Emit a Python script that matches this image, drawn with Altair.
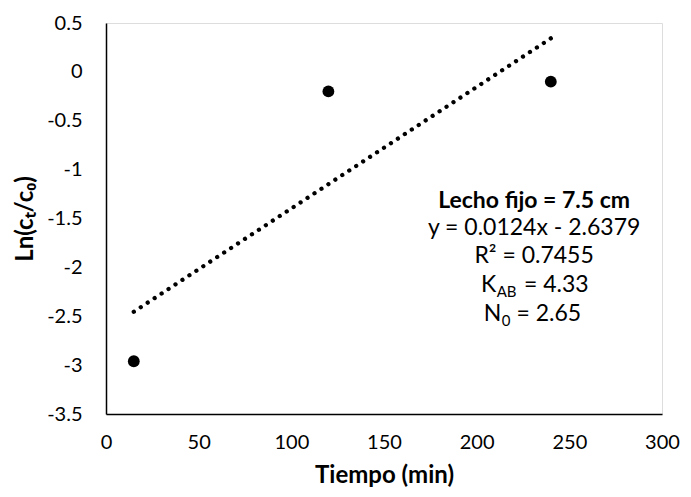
import altair as alt
import pandas as pd

# Data
tiempo = [15, 120, 240]
ln_ratio = [-2.96, -0.20, -0.10]
x_ticks = [0, 50, 100, 150, 200, 250, 300]
y_ticks = [0.5, 0, -0.5, -1, -1.5, -2, -2.5, -3, -3.5]

# Annotation block (data coordinates)
ann_lines = ["Lecho fijo = 7.5 cm", "y = 0.0124x - 2.6379", "R² = 0.7455"]
ann_y = [-1.32, -1.60, -1.885]
ann_bold = [True, False, False]
ann_x = 231

FONT = "Lato"

df = pd.DataFrame({"t": tiempo, "v": ln_ratio})

xs = alt.Scale(domain=[0, 300], nice=False, zero=False)
ys = alt.Scale(domain=[-3.5, 0.5], nice=False, zero=False)

base = alt.Chart(df)

X = alt.X("t:Q", scale=xs, title="Tiempo (min)", axis=alt.Axis(values=x_ticks))
Y = alt.Y("v:Q", scale=ys, title="Ln(cₜ/c₀)",
          axis=alt.Axis(values=y_ticks, labelExpr="'' + datum.value"))

points = base.mark_circle(size=140, color="black", opacity=1).encode(x=X, y=Y)

trend = base.transform_regression("t", "v", method="linear").mark_line(
    color="black", strokeWidth=4.3, strokeDash=[0.01, 8.3], strokeCap="round"
).encode(x=X, y=Y)

ann_df = pd.DataFrame({"x": [ann_x] * 3, "y": ann_y, "txt": ann_lines, "bold": ann_bold})
ann_bold_layer = alt.Chart(ann_df[ann_df.bold]).mark_text(
    font=FONT, fontSize=23, fontWeight="bold", color="black", align="center", baseline="middle"
).encode(x=alt.X("x:Q", scale=xs), y=alt.Y("y:Q", scale=ys), text="txt:N")
ann_reg_layer = alt.Chart(ann_df[~ann_df.bold]).mark_text(
    font=FONT, fontSize=23, color="black", align="center", baseline="middle"
).encode(x=alt.X("x:Q", scale=xs), y=alt.Y("y:Q", scale=ys), text="txt:N")

# K_AB = 4.33 and N_0 = 2.65 with subscripts
sub_main = pd.DataFrame({"x": [210.5, 213.3], "y": [-2.18, -2.477], "txt": ["K", "N"]})
sub_small = pd.DataFrame({"x": [210.8, 213.6], "y": [-2.25, -2.545], "txt": ["AB", "0"]})
sub_rest = pd.DataFrame({"x": [225.5, 221.5], "y": [-2.18, -2.477], "txt": ["= 4.33", "= 2.65"]})

l_main = alt.Chart(sub_main).mark_text(font=FONT, fontSize=23, color="black", align="right",
                                       baseline="middle").encode(
    x=alt.X("x:Q", scale=xs), y=alt.Y("y:Q", scale=ys), text="txt:N")
l_small = alt.Chart(sub_small).mark_text(font=FONT, fontSize=15, color="black", align="left",
                                         baseline="middle").encode(
    x=alt.X("x:Q", scale=xs), y=alt.Y("y:Q", scale=ys), text="txt:N")
l_rest = alt.Chart(sub_rest).mark_text(font=FONT, fontSize=23, color="black", align="left",
                                       baseline="middle").encode(
    x=alt.X("x:Q", scale=xs), y=alt.Y("y:Q", scale=ys), text="txt:N")

chart = alt.layer(trend, points, ann_bold_layer, ann_reg_layer, l_main, l_small, l_rest).properties(
    width=556, height=391,
    autosize=alt.AutoSizeParams(type="none"),
    padding={"left": 98, "top": 15, "right": 21, "bottom": 75},
).configure_view(stroke=None).configure(background="white").configure_axis(
    ticks=False, grid=False, domainColor="black", domainWidth=1.5,
    labelFont=FONT, labelFontSize=20, labelColor="black", labelFlush=False,
    titleFont=FONT, titleFontSize=24, titleFontWeight="bold", titleColor="black",
).configure_axisX(labelPadding=18, titlePadding=11).configure_axisY(labelPadding=24, titlePadding=9)

chart.save("out.html", embed_options={"renderer": "svg", "actions": False})
